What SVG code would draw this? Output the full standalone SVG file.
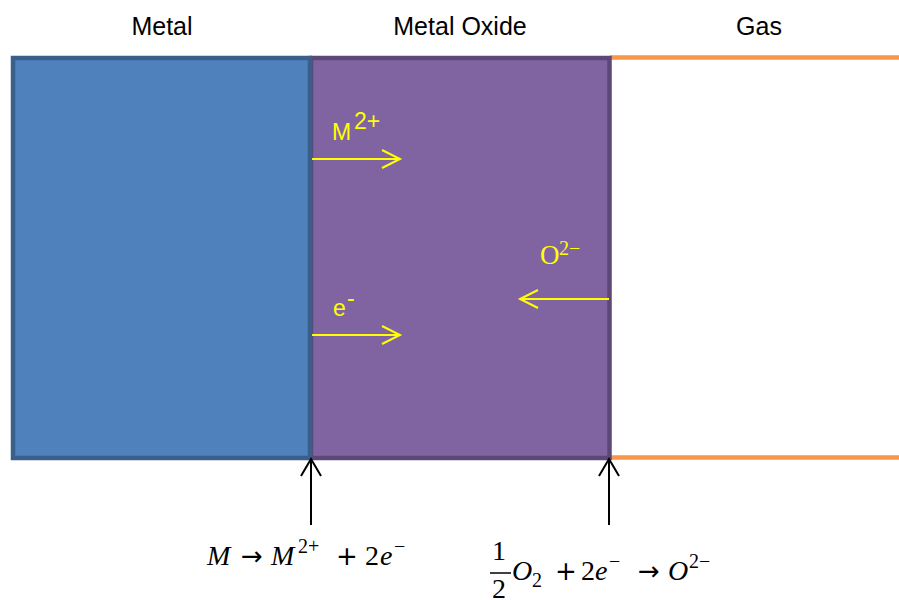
<svg xmlns="http://www.w3.org/2000/svg" width="899" height="600" viewBox="0 0 899 600">
<defs>
<style>
.title{font-family:"Liberation Sans",Arial,sans-serif;font-size:25px;fill:#000;text-anchor:middle}
.ion{font-family:"Liberation Sans",Arial,sans-serif;font-size:23px;fill:#ffff00}
.math{font-family:"Liberation Serif","DejaVu Serif",serif;font-size:28px;fill:#000}
.op{font-family:"DejaVu Sans",sans-serif;font-size:26px;fill:#000;text-anchor:middle}
.sup{font-size:20px}
.it{font-style:italic}
.yarrow{stroke:#ffff00;stroke-width:2;fill:none}
.karrow{stroke:#000;stroke-width:2;fill:none}
</style>
</defs>
<rect width="899" height="600" fill="#ffffff"/>
<g id="titles">
<text class="title" x="162" y="35">Metal</text>
<text class="title" x="460" y="35">Metal Oxide</text>
<text class="title" x="759" y="35">Gas</text>
</g>
<g id="gas">
<line x1="610" y1="57.5" x2="899" y2="57.5" stroke="#f79646" stroke-width="4.5"/>
<line x1="610" y1="457.5" x2="899" y2="457.5" stroke="#f79646" stroke-width="4.5"/>
</g>
<g id="oxide">
<rect x="311" y="58" width="298.5" height="400" fill="#8064a2" stroke="#5c4776" stroke-width="4.5"/>
</g>
<g id="metal">
<rect x="13" y="58" width="297" height="400" fill="#4f81bd" stroke="#3a5f8b" stroke-width="4.5"/>
</g>
<g id="connectors">
<path class="yarrow" d="M312,159 H400 M382,150 L400,159 L382,168"/>
<path class="yarrow" d="M312,335 H400 M382,326 L400,335 L382,344"/>
<path class="yarrow" d="M609,299 H520 M538,290 L520,299 L538,308"/>
<path class="karrow" d="M311,525 V459 M301,476 L311,459 L321,476"/>
<path class="karrow" d="M609,525 V459 M599,476 L609,459 L619,476"/>
</g>
<g id="labels">
<text class="ion" x="332" y="140">M</text>
<text class="ion" x="354" y="129" font-size="14">2+</text>
<text class="ion" x="333" y="316">e</text>
<text class="ion" x="347" y="306" font-size="15">-</text>
<text font-family="'Liberation Serif','DejaVu Serif',serif" font-size="27" fill="#ffff00" x="540" y="264">O</text>
<text font-family="'Liberation Serif','DejaVu Serif',serif" font-size="20" fill="#ffff00" x="559" y="255">2−</text>
</g>
<g id="eq1">
<text class="math it" x="207" y="565">M</text>
<text class="op" x="252" y="565">→</text>
<text class="math it" x="271" y="565">M</text>
<text class="math sup" x="298" y="553">2+</text>
<text class="op" x="347" y="565">+</text>
<text class="math" x="365" y="565">2</text>
<text class="math it" x="380" y="565">e</text>
<text class="math sup" x="394" y="553">−</text>
</g>
<g id="eq2">
<text class="math" x="499" y="560" text-anchor="middle">1</text>
<line x1="490" y1="573" x2="511" y2="573" stroke="#000" stroke-width="1.5"/>
<text class="math" x="499" y="598" text-anchor="middle">2</text>
<text class="math it" x="512" y="580">O</text>
<text class="math sup" x="532" y="587">2</text>
<text class="op" x="566" y="580">+</text>
<text class="math" x="581" y="580">2</text>
<text class="math it" x="595" y="580">e</text>
<text class="math sup" x="609" y="568">−</text>
<text class="op" x="649" y="580">→</text>
<text class="math it" x="668" y="580">O</text>
<text class="math sup" x="689" y="568">2−</text>
</g>
</svg>
